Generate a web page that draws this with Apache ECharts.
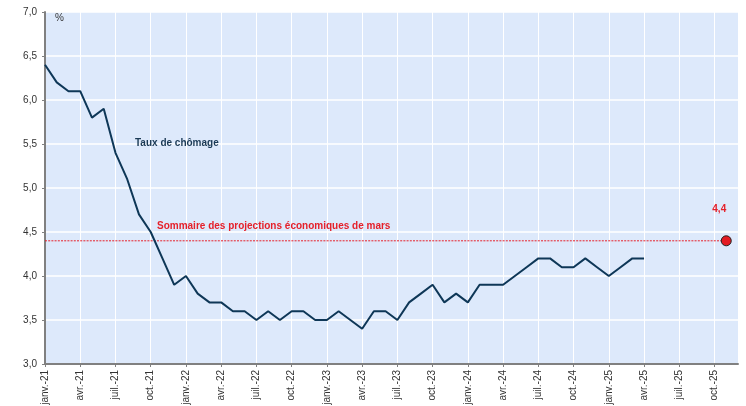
<!DOCTYPE html>
<html>
<head>
<meta charset="utf-8">
<script src="https://cdn.jsdelivr.net/npm/echarts@6/dist/echarts.min.js"></script>
<style>
html, body { margin: 0; padding: 0; background: #fff; }
#chart { width: 746px; height: 406px; }
</style>
</head>
<body>
<div id="chart"></div>
<script>
// mois janv.-21 ... déc.-25
const monthNames = ['janv.', 'févr.', 'mars', 'avr.', 'mai', 'juin', 'juil.', 'août', 'sept.', 'oct.', 'nov.', 'déc.'];
const years = ['21', '22', '23', '24', '25'];
const months = [];
years.forEach(y => monthNames.forEach(m => months.push(m + '-' + y)));

// taux de chômage (%), janv.-21 à avr.-25
const chomage = [
  6.4, 6.2, 6.1, 6.1, 5.8, 5.9, 5.4, 5.1, 4.7, 4.5, 4.2, 3.9,
  4.0, 3.8, 3.7, 3.7, 3.6, 3.6, 3.5, 3.6, 3.5, 3.6, 3.6, 3.5,
  3.5, 3.6, 3.5, 3.4, 3.6, 3.6, 3.5, 3.7, 3.8, 3.9, 3.7, 3.8,
  3.7, 3.9, 3.9, 3.9, 4.0, 4.1, 4.2, 4.2, 4.1, 4.1, 4.2, 4.1,
  4.0, 4.1, 4.2, 4.2
];

// projection de mars
const projMois = 'nov.-25';
const projValeur = 4.4;

const yTicks = { min: 3, max: 7, step: 0.5 };

const chart = echarts.init(document.getElementById('chart'));

const font = 'Liberation Sans, Arial, sans-serif';
const rouge = '#e5202a';

const option = {
  animation: false,
  grid: {
    left: 45,
    right: 8,
    top: 12,
    bottom: 42,
    outerBoundsMode: 'none',
    containLabel: false,
    show: true,
    backgroundColor: '#dde9fb',
    borderWidth: 0
  },
  xAxis: {
    type: 'category',
    boundaryGap: false,
    data: months,
    axisLine: { lineStyle: { color: '#808080', width: 2 } },
    axisTick: { show: true, interval: 2, length: 3, lineStyle: { color: '#808080' } },
    axisLabel: {
      interval: 2,
      rotate: 90,
      fontFamily: font,
      fontSize: 10,
      color: '#333',
      margin: 6
    },
    splitLine: { show: true, interval: 2, lineStyle: { color: '#ffffff', width: 1 } }
  },
  yAxis: {
    type: 'value',
    min: yTicks.min,
    max: yTicks.max,
    interval: yTicks.step,
    axisLine: { show: true, lineStyle: { color: '#808080', width: 2 } },
    axisTick: { show: true, length: 3, lineStyle: { color: '#808080' } },
    axisLabel: {
      formatter: v => v.toFixed(1).replace('.', ','),
      fontFamily: font,
      fontSize: 10,
      color: '#333',
      margin: 8
    },
    splitLine: { show: true, lineStyle: { color: '#ffffff', width: 1.5 } }
  },
  series: [
    {
      name: 'Taux de chômage',
      type: 'line',
      data: chomage,
      symbol: 'none',
      lineStyle: { color: '#0e3757', width: 2 },
      z: 3
    },
    {
      // ligne pointillée de la projection
      name: 'Niveau projeté',
      type: 'line',
      data: [[months[0], projValeur], [projMois, projValeur]],
      symbol: 'none',
      silent: true,
      lineStyle: { color: rouge, type: [2, 1.2], width: 1 },
      z: 2
    },
    {
      name: 'Projection',
      type: 'scatter',
      data: [[projMois, projValeur]],
      symbolSize: 10,
      itemStyle: { color: '#e31b23', borderColor: '#222', borderWidth: 1, opacity: 1 },
      label: {
        show: true,
        position: 'top',
        distance: 21,
        formatter: p => String(p.value[1]).replace('.', ','),
        color: rouge,
        fontWeight: 'bold',
        fontSize: 10,
        fontFamily: font,
        offset: [-7, 0]
      },
      z: 4
    }
  ],
  graphic: [
    {
      type: 'text', left: 55, top: 13, z: 100,
      style: { text: '%', fontSize: 10, fontFamily: font, fill: '#333' }
    },
    {
      type: 'text', left: 135, top: 138, z: 100,
      style: { text: 'Taux de chômage', fontSize: 10, fontWeight: 'bold', fontFamily: font, fill: '#1b3a55' }
    },
    {
      type: 'text', left: 157, top: 221, z: 100,
      style: { text: 'Sommaire des projections économiques de mars', fontSize: 10, fontWeight: 'bold', fontFamily: font, fill: rouge }
    }
  ]
};

chart.setOption(option);
</script>
</body>
</html>
